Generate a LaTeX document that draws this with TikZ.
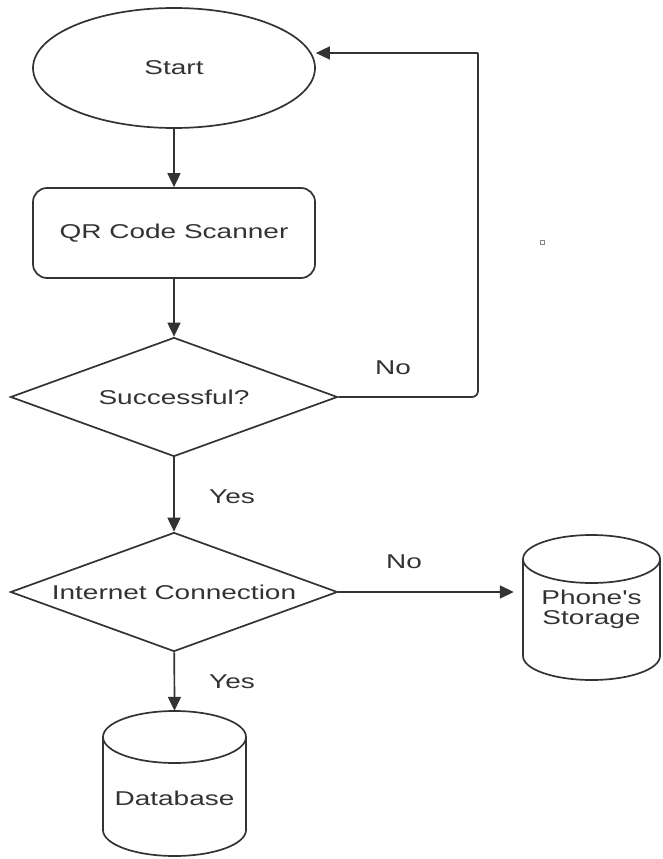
\documentclass[tikz,border=0pt]{standalone}
\usepackage{fontspec}
\newfontfamily\flowfont[FakeStretch=1.4]{Liberation Sans}
\usetikzlibrary{shapes.geometric,arrows.meta}
\definecolor{ink}{HTML}{333333}
\tikzset{
  flow/.style={draw=ink, line width=1.7pt, text=ink, font=\flowfont\fontsize{20}{23}\selectfont, align=center},
  terminal/.style={flow, ellipse, inner sep=0pt, minimum width=282pt, minimum height=120pt},
  process/.style={flow, rectangle, rounded corners=14pt, minimum width=282pt, minimum height=90pt},
  decision/.style={flow, diamond, aspect=2.75, inner sep=0pt, minimum width=327pt, minimum height=119pt},
  storebody/.style={rectangle, inner sep=0pt, text=ink, font=\flowfont\fontsize{20}{23}\selectfont, align=center},
  cyl/.style={draw=ink, line width=1.7pt},
  link/.style={draw=ink, line width=1.7pt, -{Triangle[length=14pt,width=13pt]}},
  tag/.style={text=ink, font=\flowfont\fontsize{20}{23}\selectfont},
}
\begin{document}
\begin{tikzpicture}[x=1pt, y=-1pt]
  \useasboundingbox (0,0) rectangle (662,859);

  % flow nodes
  \node[terminal] (start) at (174,68) {Start};
  \node[process]  (qr)    at (174,233) {QR Code Scanner};
  \node[decision] (succ)  at (174,397) {Successful?};
  \node[decision] (inet)  at (174,592) {Internet Connection};

  % storage cylinders: the node holds the label, the outline is drawn around it
  \node[storebody, minimum width=137pt, minimum height=145pt] (phone) at (591.5,608) {};
  \node[tag, text width=137pt, align=center] (phonetxt) at (591.5,609) {Phone's\\[-3pt]Storage};
  \draw[cyl] (591.5,559) ellipse[x radius=68.5, y radius=24];
  \draw[cyl] (523,559) -- (523,656) arc[start angle=180, end angle=0, x radius=68.5, y radius=24] -- (660,559);

  \node[storebody, minimum width=143pt, minimum height=145pt] (db) at (174.5,783.5) {};
  \node[tag] (dbtxt) at (174.5,798) {Database};
  \draw[cyl] (174.5,737) ellipse[x radius=71.5, y radius=26];
  \draw[cyl] (103,737) -- (103,830) arc[start angle=180, end angle=0, x radius=71.5, y radius=26] -- (246,737);

  % connectors
  \coordinate (loopTop) at (478,53);
  \draw[link] (start) -- (qr);
  \draw[link] (qr) -- (succ);
  \draw[link] (succ) -- (inet);
  \draw[draw=ink, line width=1.7pt, rounded corners=6pt] (succ.east) -| (loopTop);
  \draw[link] (loopTop) -- (loopTop -| start.east);
  \draw[link, shorten >=9pt] (inet.east) -- (inet.east -| phone.west);
  \draw[link] (inet) -- (db.north);

  % branch labels
  \node[tag] (noA)  at (393,368) {No};
  \node[tag] (yesA) at (232,497) {Yes};
  \node[tag] (noB)  at (404,562) {No};
  \node[tag] (yesB) at (232,682) {Yes};

  % small stray mark
  \node[draw=ink!60, line width=0.8pt, minimum size=4pt, inner sep=0pt] (dot) at (542,242) {};
\end{tikzpicture}
\end{document}
